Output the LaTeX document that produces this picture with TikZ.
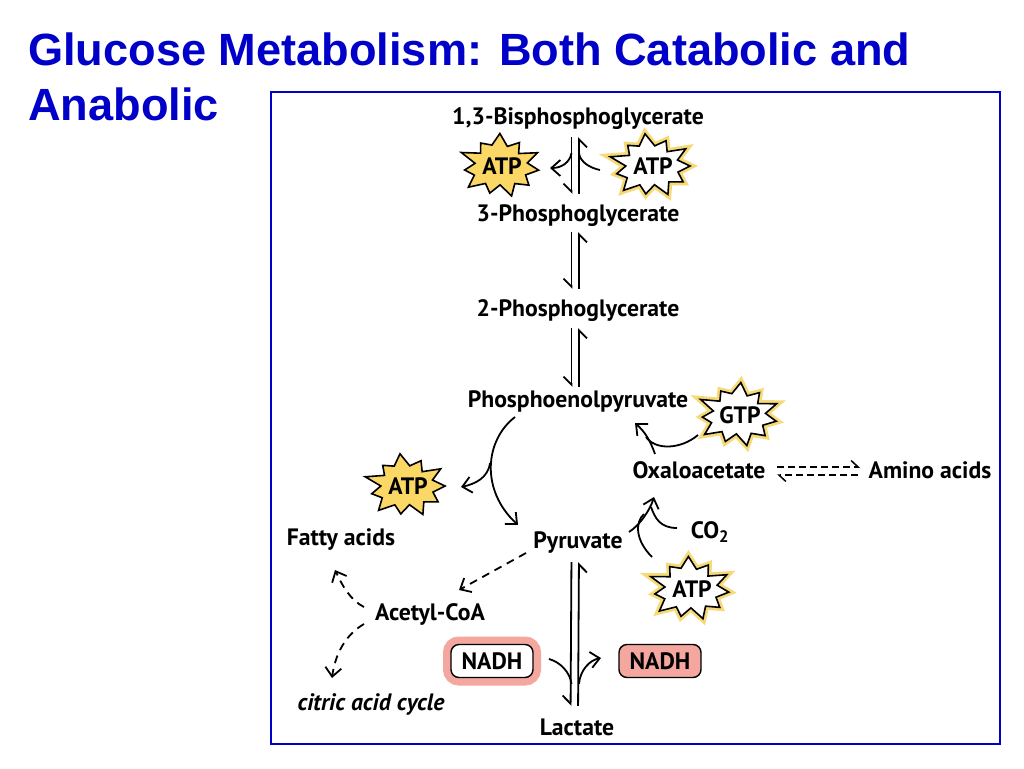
\documentclass[tikz,border=0pt]{standalone}
\usepackage{fontspec}
\setmainfont{PT Sans}
\newfontfamily\titlefont{Liberation Sans}
\usetikzlibrary{arrows.meta, calc, positioning}
\definecolor{slideBlue}{HTML}{0000C8}
\definecolor{burstGold}{HTML}{FBD766}
\definecolor{burstHalo}{HTML}{F6DA78}
\definecolor{nadhPink}{HTML}{F3A79E}
\tikzset{
    declare function={burstR(\k)=ifthenelse(mod(\k,2)==0, 1+0.09*sin(\k*97), 0.68+0.05*sin(\k*53));},
    metab/.style={font=\bfseries\fontsize{23.7}{26}\selectfont, inner sep=0pt, text height=18.5pt, text depth=3.5pt},
    reoArrow/.style={-{Straight Barb[length=9pt, width=16pt, line width=1.8pt]}, line width=1.8pt, black},
    reoBranch/.style={line width=1.8pt, black},
    reoDash/.style={reoArrow, dash pattern=on 8pt off 6pt},
    harpDown/.style={-{Straight Barb[harpoon, swap, length=8pt, width=16pt, line width=1.8pt]}, line width=1.8pt, black},
    harpDash/.style={-{Straight Barb[harpoon, length=7pt, width=13pt, line width=1.5pt]}, line width=1.5pt, black, dash pattern=on 7pt off 4pt},
    burstSpent/.style={draw=black, line width=1.6pt, fill=burstGold, miter limit=20},
    burstFresh/.style={draw=black, line width=1.6pt, fill=white, miter limit=20, preaction={draw=burstHalo, line width=7pt, miter limit=20}},
    nadhBox/.style={draw=black, line width=1.4pt, rounded corners=8pt, minimum width=82pt, minimum height=33pt, inner sep=0pt, font=\bfseries\fontsize{23.7}{26}\selectfont},
}
\newcommand{\drawBurst}[6]{
    \path[#1] plot[samples at={0,...,21}] ({#3-2+39*burstR(\x)*cos(\x*360/22+#5)}, {#4+30*burstR(\x)*sin(\x*360/22+#5)}) -- cycle;
    \node[font=\bfseries\fontsize{23.7}{26}\selectfont, inner sep=0pt] (#2) at (#3,#4) {#6};
}
\newcommand{\drawEquil}[4]{
    \draw[harpDown, shorten <=#3, shorten >=#4] ([xshift=-6.5pt]#1.south) -- ([xshift=-6.5pt]#2.north);
    \draw[harpDown, shorten <=#4, shorten >=#3] ([xshift=1pt]#2.north) -- ([xshift=1pt]#1.south);
}
\begin{document}
\begin{tikzpicture}[x=1pt, y=-1pt]

    \useasboundingbox (0,0) rectangle (1024,768);
    \fill[white] (0,0) rectangle (1024,768);

    \node[anchor=north west, align=left, inner sep=0pt, text=slideBlue, font=\titlefont\bfseries\fontsize{45.15}{55}\selectfont] (slideTitle) at (28,33) {Glucose Metabolism: Both Catabolic and\\Anabolic};
    \draw[slideBlue, line width=2.5pt, fill=white] (271,92) rectangle (1000,744);

    \node[metab] (bpg) at (578,117) {1,3-Bisphosphoglycerate};
    \node[metab] (pgThree) at (578,214) {3-Phosphoglycerate};
    \node[metab] (pgTwo) at (578,309) {2-Phosphoglycerate};
    \node[metab] (pep) at (578,400) {Phosphoenolpyruvate};
    \node[metab] (oxa) at (699,471) {Oxaloacetate};
    \node[metab] (amino) at (930,471) {Amino acids};
    \node[metab] (pyr) at (578,541) {Pyruvate};
    \node[metab] (carbon) at (710,531) {CO\textsubscript{2}};
    \node[metab] (fatty) at (341,538) {Fatty acids};
    \node[metab] (acetyl) at (430,613) {Acetyl-CoA};
    \node[metab, font=\bfseries\itshape\fontsize{23.7}{26}\selectfont] (citric) at (371,703) {citric acid cycle};
    \node[metab] (lactate) at (577,728) {Lactate};

    \drawBurst{burstSpent}{atpA}{502}{166}{8}{ATP}
    \drawBurst{burstFresh}{atpB}{653}{166}{0}{ATP}
    \drawBurst{burstFresh}{gtp}{740}{415}{12}{GTP}
    \drawBurst{burstSpent}{atpC}{408}{486}{0}{ATP}
    \drawBurst{burstFresh}{atpD}{692}{589}{6}{ATP}

    \node[nadhBox, fill=white, preaction={draw=nadhPink, line width=16pt}] (nadhA) at (492,661) {NADH};
    \node[nadhBox, fill=nadhPink] (nadhB) at (660,661) {NADH};

    \drawEquil{bpg}{pgThree}{9pt}{9pt}
    \drawEquil{pgThree}{pgTwo}{7pt}{9pt}
    \drawEquil{pgTwo}{pep}{8pt}{2pt}
    \drawEquil{pyr}{lactate}{10pt}{11pt}

    \draw[reoArrow] (571.5,153) .. controls (570,162) and (562,168) .. ($(atpA)+(48,2)$);
    \draw[reoBranch] ($(atpB)+(-53,4)$) .. controls (590,168) and (580,162) .. (579,153);

    \draw[reoArrow] ($(pep)+(-63,17)$) .. controls (485,440) and (480,490) .. ($(pyr)+(-60,-16)$);
    \draw[reoArrow] (490,463) .. controls (488,478) and (475,484) .. ($(atpC)+(53,1)$);

    \draw[reoArrow] ($(oxa)+(-44,-17)$) .. controls (650,440) and (645,432) .. ($(pep)+(57,23)$);
    \draw[reoBranch] ($(gtp)+(-42,20)$) .. controls (680,450) and (655,450) .. (646,437);

    \draw[reoArrow] ($(pyr)+(51,-9)$) .. controls (640,525) and (650,510) .. ($(oxa)+(-45,26)$);
    \draw[reoBranch] ($(carbon)+(-33,-3)$) .. controls (660,528) and (655,518) .. (651,507);
    \draw[reoBranch] ($(atpD)+(-40,-32)$) .. controls (635,540) and (635,522) .. (644,514);

    \draw[reoBranch] (549,659) .. controls (560,662) and (570,672) .. (571.5,684);
    \draw[reoArrow] (579,684) .. controls (580,670) and (590,660) .. ($(nadhB)+(-59,-3)$);

    \draw[reoDash] ($(pyr)+(-52,12)$) -- ($(acetyl)+(29,-23)$);
    \draw[reoDash] ($(acetyl)+(-66,-6)$) .. controls (350,600) and (342,585) .. ($(fatty)+(-6,32)$);
    \draw[reoDash] ($(acetyl)+(-66,11)$) .. controls (345,635) and (335,655) .. ($(citric)+(-39,-25)$);

    \draw[harpDash] ($(oxa)+(78,-4)$) -- ($(amino)+(-70,-4)$);
    \draw[harpDash] ($(amino)+(-72,4)$) -- ($(oxa)+(78,4)$);

\end{tikzpicture}
\end{document}
